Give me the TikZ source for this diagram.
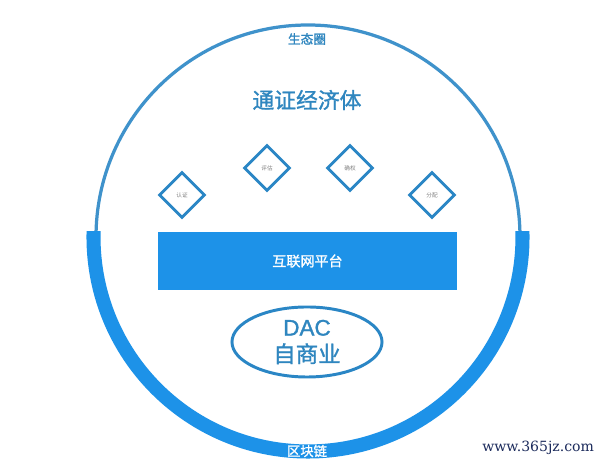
\documentclass[tikz,border=0pt]{standalone}
\usepackage{fontspec}
\setmainfont{Liberation Sans}
\newfontfamily\cjk{Noto Sans CJK SC}
\newfontfamily\cjkb[FakeBold=1.3]{Noto Sans CJK SC}
\newfontfamily\latb[FakeBold=1.3]{Liberation Sans}
\newfontfamily\wmfont{DejaVu Serif}
\usetikzlibrary{shapes.geometric}

\definecolor{ringblue}{HTML}{1D92E8}
\definecolor{lineblue}{HTML}{2A86C5}
\definecolor{textblue}{HTML}{2F86BF}
\definecolor{marknavy}{HTML}{1C2B5C}

\tikzset{
  gem/.style={draw=lineblue, line width=2.1pt, shape=diamond, minimum width=1.15cm, minimum height=1.15cm, inner sep=0pt, font=\cjk\fontsize{4}{4}\selectfont, text=gray},
}

\begin{document}
\begin{tikzpicture}[x=0.025cm, y=0.025cm]
\useasboundingbox[fill=white] (0,0) rectangle (607,465);
% ecosystem circle
\coordinate (mid) at (308,228);
\draw[lineblue!90, line width=2.3pt] (mid) circle (212);
% blockchain band
\begin{scope}
\clip (0,0) rectangle (607,233);
\draw[ringblue, line width=10pt] (mid) circle (214.5);
\end{scope}
\node[text=textblue, font=\cjkb\fontsize{9}{9}\selectfont] (eco) at (307,426) {生态圈};
\node[text=white, font=\cjkb\fontsize{9.5}{9.5}\selectfont] (chain) at (307,14) {区块链};
% token economy
\node[text=textblue, font=\cjkb\fontsize{15.5}{15.5}\selectfont] (title) at (307,365) {通证经济体};
\node[gem] (d1) at (182,270) {认证};
\node[gem] (d2) at (267,297) {评估};
\node[gem] (d3) at (350,297) {确权};
\node[gem] (d4) at (432,270) {分配};
% platform
\node[fill=ringblue, minimum width=7.475cm, minimum height=1.45cm, inner sep=0pt, text=white, font=\cjkb\fontsize{10}{10}\selectfont] (platform) at (307.5,204) {互联网平台};
% DAC
\node[draw=lineblue, line width=2.1pt, ellipse, minimum width=3.75cm, minimum height=1.75cm, inner sep=0pt, text=textblue, align=center, font=\latb\fontsize{16}{19}\selectfont] (dac) at (307,123) {DAC\\{\cjkb 自商业}};
% watermark
\node[anchor=east, text=marknavy, font=\wmfont\fontsize{10}{10}\selectfont] (mark) at (599,17) {www.365jz.com};
\end{tikzpicture}
\end{document}
